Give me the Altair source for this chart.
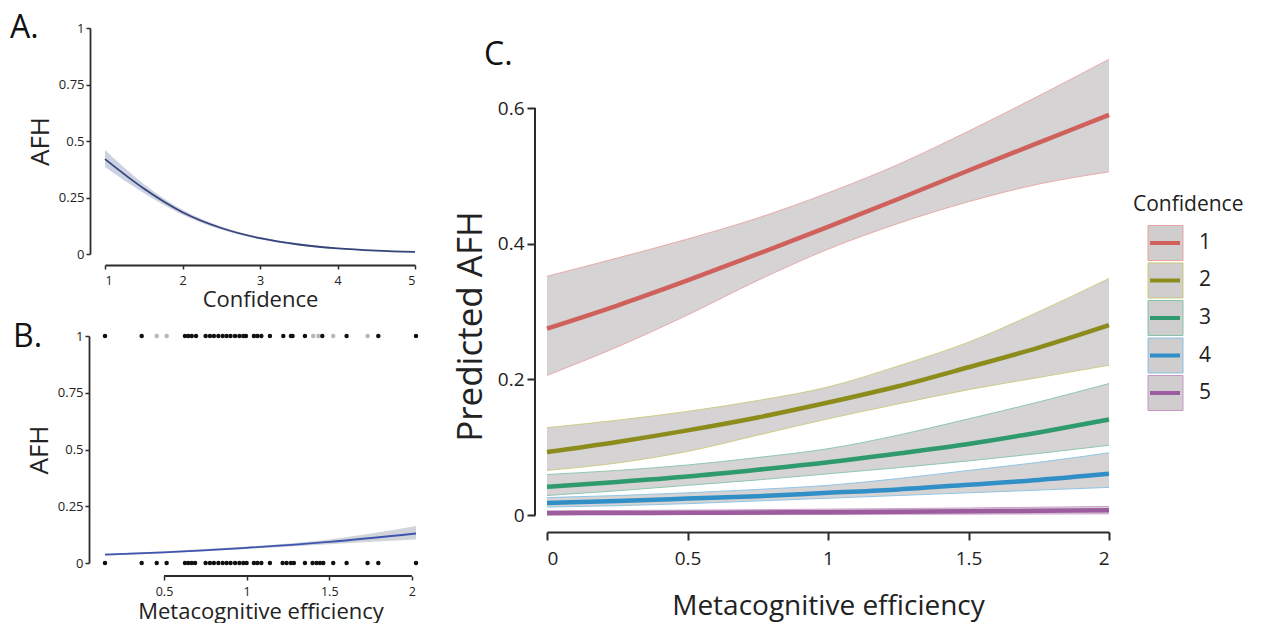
import altair as alt
import pandas as pd

FONT = "Open Sans"
AXIS_COLOR = "#2b2b2b"

# ---------------- Panel A: AFH vs Confidence ----------------
a_conf = [1, 1.5, 2, 2.5, 3, 3.5, 4, 4.5, 5]
a_fit = [0.42, 0.29, 0.185, 0.115, 0.07, 0.042, 0.025, 0.015, 0.009]
a_lo = [0.385, 0.27, 0.174, 0.108, 0.065, 0.038, 0.022, 0.012, 0.006]
a_hi = [0.46, 0.31, 0.196, 0.122, 0.075, 0.046, 0.028, 0.018, 0.012]

# ---------------- Panel B: AFH vs Metacognitive efficiency ----------------
b_eff = [0.143, 0.5, 1.0, 1.5, 2.025]
b_fit = [0.037, 0.047, 0.067, 0.093, 0.13]
b_lo = [0.033, 0.043, 0.062, 0.083, 0.103]
b_hi = [0.041, 0.052, 0.073, 0.104, 0.163]

b_top_dark = [0.143, 0.365, 0.627, 0.647, 0.668, 0.694, 0.752, 0.778, 0.802, 0.829,
              0.855, 0.879, 0.903, 0.930, 0.956, 0.980, 0.996, 1.044, 1.065, 1.089,
              1.141, 1.222, 1.268, 1.278, 1.353, 1.458, 1.605, 1.797, 2.025]
b_top_light = [0.456, 0.516, 1.403, 1.434, 1.524, 1.732]
b_bottom = [0.143, 0.365, 0.456, 0.516, 0.627, 0.647, 0.668, 0.688, 0.752, 0.778,
            0.802, 0.829, 0.855, 0.879, 0.903, 0.930, 0.956, 0.980, 1.000, 1.044,
            1.065, 1.089, 1.141, 1.218, 1.242, 1.268, 1.286, 1.353, 1.399, 1.423,
            1.444, 1.464, 1.524, 1.605, 1.732, 1.797, 2.025]

# ---------------- Panel C: Predicted AFH ----------------
c_eff = [0, 0.25, 0.5, 0.75, 1, 1.25, 1.5, 1.75, 2]
c_levels = ["1", "2", "3", "4", "5"]
c_fit = {
    "1": [0.275, 0.309, 0.346, 0.385, 0.425, 0.466, 0.508, 0.549, 0.59],
    "2": [0.093, 0.108, 0.125, 0.144, 0.166, 0.19, 0.218, 0.247, 0.28],
    "3": [0.042, 0.049, 0.057, 0.067, 0.078, 0.091, 0.105, 0.122, 0.141],
    "4": [0.018, 0.021, 0.0245, 0.028, 0.033, 0.038, 0.045, 0.052, 0.061],
    "5": [0.003, 0.0032, 0.0035, 0.004, 0.0045, 0.0051, 0.0058, 0.0066, 0.0074],
}
c_lo = {
    "1": [0.206, 0.248, 0.295, 0.346, 0.392, 0.43, 0.462, 0.488, 0.506],
    "2": [0.066, 0.077, 0.094, 0.118, 0.142, 0.164, 0.185, 0.203, 0.221],
    "3": [0.029, 0.036, 0.044, 0.052, 0.061, 0.07, 0.08, 0.091, 0.103],
    "4": [0.012, 0.014, 0.017, 0.021, 0.025, 0.029, 0.033, 0.037, 0.041],
    "5": [0.0008, 0.0009, 0.001, 0.0011, 0.0012, 0.0014, 0.0016, 0.0018, 0.002],
}
c_hi = {
    "1": [0.352, 0.379, 0.407, 0.438, 0.475, 0.517, 0.566, 0.618, 0.672],
    "2": [0.129, 0.14, 0.153, 0.169, 0.189, 0.22, 0.255, 0.30, 0.349],
    "3": [0.060, 0.066, 0.074, 0.085, 0.098, 0.118, 0.142, 0.167, 0.194],
    "4": [0.026, 0.029, 0.033, 0.038, 0.044, 0.054, 0.066, 0.078, 0.092],
    "5": [0.0065, 0.007, 0.0075, 0.0082, 0.009, 0.0098, 0.0107, 0.0118, 0.013],
}
c_colors = ["#d0605c", "#8c8c1c", "#2f9a6d", "#2f8fc6", "#9c5c9e"]
c_border = ["#e9a3a3", "#c9c97a", "#86c4a6", "#86c2e6", "#c897c8"]

panel_letters = ["A.", "B.", "C."]
legend_title = "Confidence"

# ---------------- data frames ----------------
df_a = pd.DataFrame({"conf": a_conf, "fit": a_fit, "lo": a_lo, "hi": a_hi})
df_b = pd.DataFrame({"eff": b_eff, "fit": b_fit, "lo": b_lo, "hi": b_hi})
df_pts = pd.concat([
    pd.DataFrame({"eff": b_top_dark, "afh": 1, "shade": "dark"}),
    pd.DataFrame({"eff": b_top_light, "afh": 1, "shade": "light"}),
    pd.DataFrame({"eff": b_bottom, "afh": 0, "shade": "dark"}),
], ignore_index=True)

rows = []
for lev in c_levels:
    for i, x in enumerate(c_eff):
        rows.append({"eff": x, "conf": lev, "fit": c_fit[lev][i],
                     "lo": c_lo[lev][i], "hi": c_hi[lev][i]})
df_c = pd.DataFrame(rows)
df_leg = pd.DataFrame({"conf": c_levels})

label_font = dict(labelFont=FONT, titleFont=FONT, labelColor="#222", titleColor="#222",
                  domainColor=AXIS_COLOR, tickColor=AXIS_COLOR, titleFontWeight="normal",
                  grid=False)


def letter(text, x, y):
    return alt.Chart(pd.DataFrame({"t": [text]})).mark_text(
        align="left", baseline="alphabetic", fontSize=32, font=FONT, color="#111"
    ).encode(text="t:N", x=alt.value(x), y=alt.value(y))


# ---------------- Panel A ----------------
WA, HA = 310, 226
xa = alt.X("conf:Q", scale=alt.Scale(domain=[1, 5], nice=False),
           axis=alt.Axis(values=[1, 2, 3, 4, 5], format=".2~f", title="Confidence", offset=11,
                         tickSize=4, domainWidth=1.8, tickWidth=1.5, labelFontSize=12.5,
                         titleFontSize=22, titlePadding=3, labelPadding=5, **label_font))
ya = alt.Y("fit:Q", scale=alt.Scale(domain=[0, 1], nice=False),
           axis=alt.Axis(values=[0, 0.25, 0.5, 0.75, 1], format=".2~f", title="AFH", offset=15,
                         tickSize=4, domainWidth=1.8, tickWidth=1.5, labelFontSize=13,
                         titleFontSize=26, titlePadding=5, labelPadding=2, **label_font))
band_a = alt.Chart(df_a).mark_area(color="#c8cde0", opacity=0.9, interpolate="monotone").encode(
    x=xa, y=alt.Y("lo:Q"), y2="hi:Q")
line_a = alt.Chart(df_a).mark_line(color="#36457a", strokeWidth=1.8, interpolate="monotone").encode(
    x=xa, y=ya)
chart_a = alt.layer(band_a, line_a, letter(panel_letters[0], -95, 10)).properties(
    width=WA, height=HA)

# ---------------- Panel B ----------------
WB, HB = 311, 227
xb_scale = alt.Scale(domain=[0.143, 2.025], nice=False)
xb = alt.X("eff:Q", scale=xb_scale,
           axis=alt.Axis(values=[0.5, 1, 1.5, 2], format=".2~f", title="Metacognitive efficiency",
                         offset=13, domain=False, tickSize=4, tickWidth=1.5, labelFontSize=12.5,
                         titleFontSize=22, titlePadding=4, labelPadding=5, **label_font))
yb = alt.Y("fit:Q", scale=alt.Scale(domain=[0, 1], nice=False),
           axis=alt.Axis(values=[0, 0.25, 0.5, 0.75, 1], format=".2~f", title="AFH", offset=16,
                         tickSize=4, domainWidth=1.8, tickWidth=1.5, labelFontSize=13,
                         titleFontSize=26, titlePadding=5, labelPadding=2, **label_font))
band_b = alt.Chart(df_b).mark_area(color="#cfd3d8", opacity=0.95, interpolate="monotone").encode(
    x=alt.X("eff:Q", scale=xb_scale), y=alt.Y("lo:Q"), y2="hi:Q")
line_b = alt.Chart(df_b).mark_line(color="#3f55b0", strokeWidth=1.8, interpolate="monotone").encode(
    x=xb, y=yb)
pts_b = alt.Chart(df_pts).mark_circle(size=20, color="#111").encode(
    x=alt.X("eff:Q", scale=xb_scale),
    y=alt.Y("afh:Q"),
    opacity=alt.Opacity("shade:N", scale=alt.Scale(domain=["dark", "light"], range=[1.0, 0.3]),
                        legend=None))
axis_b = alt.Chart(pd.DataFrame({"a": [0.5], "b": [2]})).mark_rule(
    color=AXIS_COLOR, strokeWidth=1.8).encode(
    x=alt.X("a:Q", scale=xb_scale), x2="b:Q", y=alt.value(HB + 13))
chart_b = alt.layer(band_b, line_b, pts_b, axis_b, letter(panel_letters[1], -92, 11)).properties(
    width=WB, height=HB)

# ---------------- Panel C ----------------
WC = 562
PX = 678.5
YMAX = 0.718
YMIN = -0.01
HC = round((YMAX - YMIN) * PX)
xc_scale = alt.Scale(domain=[0, 2], nice=False)
yc_scale = alt.Scale(domain=[YMIN, YMAX], nice=False)
color_scale = alt.Scale(domain=c_levels, range=c_colors)
stroke_scale = alt.Scale(domain=c_levels, range=c_border)
xc = alt.X("eff:Q", scale=xc_scale,
           axis=alt.Axis(values=[0, 0.5, 1, 1.5, 2], format=".2~f", title="Metacognitive efficiency",
                         offset=10, tickSize=8, domainWidth=2, tickWidth=2, labelFontSize=19,
                         titleFontSize=28, titlePadding=24, labelPadding=9, **label_font))
yc = alt.Y("fit:Q", scale=yc_scale,
           axis=alt.Axis(values=[0, 0.2, 0.4, 0.6], format=".2~f", title="Predicted AFH", offset=12,
                         domain=False, tickSize=8, tickWidth=2, labelFontSize=19,
                         titleFontSize=35, titlePadding=9, labelPadding=3, titleY=298,
                         **label_font))
band_c = alt.Chart(df_c).mark_area(color="#d5d3d3", opacity=1, interpolate="monotone").encode(
    x=alt.X("eff:Q", scale=xc_scale), y=alt.Y("lo:Q", scale=yc_scale), y2="hi:Q",
    detail="conf:N")
lo_c = alt.Chart(df_c).mark_line(strokeWidth=0.9, interpolate="monotone").encode(
    x=alt.X("eff:Q", scale=xc_scale), y=alt.Y("lo:Q", scale=yc_scale),
    stroke=alt.Stroke("conf:N", scale=stroke_scale, legend=None))
hi_c = alt.Chart(df_c).mark_line(strokeWidth=0.9, interpolate="monotone").encode(
    x=alt.X("eff:Q", scale=xc_scale), y=alt.Y("hi:Q", scale=yc_scale),
    stroke=alt.Stroke("conf:N", scale=stroke_scale, legend=None))
line_c = alt.Chart(df_c).mark_line(strokeWidth=4.5, interpolate="monotone").encode(
    x=xc, y=yc, color=alt.Color("conf:N", scale=color_scale, legend=None))
axis_c = alt.Chart(pd.DataFrame({"a": [0.0], "b": [0.6]})).mark_rule(
    color=AXIS_COLOR, strokeWidth=2).encode(
    y=alt.Y("a:Q", scale=yc_scale), y2="b:Q", x=alt.value(-12))
c_main = alt.layer(band_c, lo_c, hi_c, line_c, axis_c, letter(panel_letters[2], -63, 37))

# legend drawn with a band scale for the Confidence levels
LX = 586  # legend left, relative to panel C plot area
leg_scale = alt.Scale(domain=c_levels, range=[196.25, 383.75], paddingInner=0.0667,
                      paddingOuter=0.0333)
leg_box = alt.Chart(df_leg).mark_rect(fill="#cfcdcd", strokeWidth=1).encode(
    x=alt.value(LX + 15), x2=alt.value(LX + 50),
    y=alt.Y("conf:N", scale=leg_scale, axis=None),
    stroke=alt.Stroke("conf:N", scale=stroke_scale, legend=None))
leg_line = alt.Chart(df_leg).mark_rule(strokeWidth=4).encode(
    x=alt.value(LX + 17), x2=alt.value(LX + 47),
    y=alt.Y("conf:N", scale=leg_scale, axis=None, bandPosition=0.5),
    color=alt.Color("conf:N", scale=color_scale, legend=None))
leg_text = alt.Chart(df_leg).mark_text(align="left", baseline="middle", fontSize=21, font=FONT,
                                       color="#222").encode(
    x=alt.value(LX + 66),
    y=alt.Y("conf:N", scale=leg_scale, axis=None, bandPosition=0.5),
    text="conf:N")
leg_head = alt.Chart(pd.DataFrame({"t": [legend_title]})).mark_text(
    align="left", baseline="middle", fontSize=21, font=FONT, color="#222").encode(
    x=alt.value(LX), y=alt.value(177), text="t:N")
c_leg = alt.layer(leg_box, leg_line, leg_text, leg_head)

chart_c = alt.layer(c_main, c_leg).resolve_scale(y="independent").properties(
    width=WC, height=HC)

left = alt.vconcat(chart_a, chart_b, spacing=10)
chart = alt.hconcat(left, chart_c, spacing=33).properties(
    padding={"left": 2, "top": 4, "right": 2, "bottom": 2},
    background="white",
).configure_view(stroke=None)

chart.save("out.html", embed_options={"renderer": "svg", "actions": False})
